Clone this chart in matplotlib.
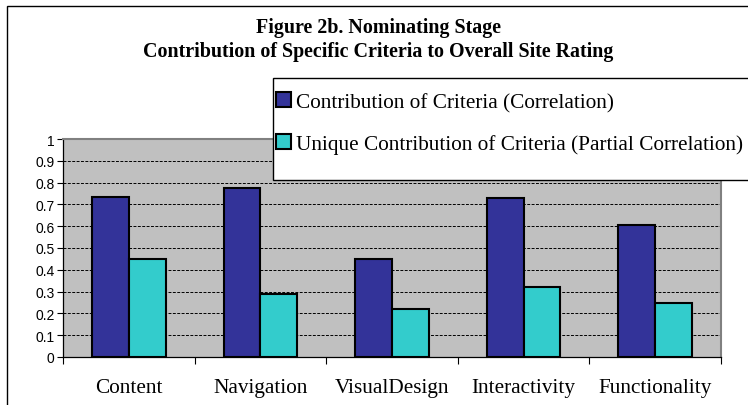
import matplotlib
matplotlib.use("Agg")
import matplotlib.pyplot as plt
import numpy as np
from matplotlib.patches import Rectangle

categories = ["Content", "Navigation", "VisualDesign", "Interactivity", "Functionality"]
correlation = [0.735, 0.775, 0.45, 0.73, 0.607]
partial = [0.45, 0.29, 0.22, 0.32, 0.25]
series_names = ["Contribution of Criteria (Correlation)",
                "Unique Contribution of Criteria (Partial Correlation)"]
yticks = [0, 0.1, 0.2, 0.3, 0.4, 0.5, 0.6, 0.7, 0.8, 0.9, 1]
ytick_labels = ["0", "0.1", "0.2", "0.3", "0.4", "0.5", "0.6", "0.7", "0.8", "0.9", "1"]

W, H = 748, 406
fig = plt.figure(figsize=(W / 100, H / 100), dpi=100)
fig.patch.set_facecolor("white")

# outer chart frame
fig.add_artist(Rectangle((7 / W, -0.1), 1.2, 1 - 7 / H + 0.1, transform=fig.transFigure,
                         fill=False, edgecolor="black", linewidth=1.0))

ax = fig.add_axes([63 / W, (H - 358) / H, (721 - 63) / W, (358 - 140) / H])
ax.set_facecolor("#C0C0C0")

x = np.arange(len(categories))
bw = 0.28
b1 = ax.bar(x - bw / 2, correlation, bw, color="#333399", edgecolor="black", linewidth=1.5,
            label=series_names[0], zorder=3)
b2 = ax.bar(x + bw / 2, partial, bw, color="#33CCCC", edgecolor="black", linewidth=1.5,
            label=series_names[1], zorder=3)

ax.set_xlim(-0.5, len(categories) - 0.5)
ax.set_ylim(0, 1)
ax.set_yticks(yticks)
ax.set_yticklabels(ytick_labels, fontfamily="Liberation Sans", fontsize=10)
ax.yaxis.grid(True, linestyle=(0, (3, 1.5)), color="black", linewidth=0.7, zorder=1)
ax.set_axisbelow(True)

ax.set_xticks(np.arange(len(categories) + 1) - 0.5, minor=False)
ax.set_xticklabels([])
ax.set_xticks(x, minor=True)
ax.set_xticklabels(categories, minor=True, fontfamily="Liberation Serif", fontsize=15.3)
ax.tick_params(axis="x", which="major", length=5, width=0.8, direction="out")
ax.tick_params(axis="x", which="minor", length=0, pad=15)
ax.tick_params(axis="y", length=4, width=0.8, direction="out", pad=2)

for s in ["left", "bottom"]:
    ax.spines[s].set_color("black")
    ax.spines[s].set_linewidth(0.9)
for s in ["top", "right"]:
    ax.spines[s].set_color("#808080")
    ax.spines[s].set_linewidth(1.5)

fig.text(378 / W, 1 - 28 / H, "Figure 2b. Nominating Stage", ha="center", va="center",
         fontfamily="Liberation Serif", fontweight="bold", fontsize=14.4)
fig.text(378 / W, 1 - 52 / H, "Contribution of Specific Criteria to Overall Site Rating",
         ha="center", va="center", fontfamily="Liberation Serif", fontweight="bold", fontsize=14.4)

# legend box
fig.add_artist(Rectangle((273 / W, 1 - 181 / H), 1.0, (181 - 79) / H, transform=fig.transFigure,
                         facecolor="white", edgecolor="black", linewidth=1.0, zorder=4))
leg = fig.legend(handles=[b1, b2], labels=series_names, loc="upper left",
                 bbox_to_anchor=(274 / W, 1 - 91 / H), bbox_transform=fig.transFigure,
                 prop={"family": "Liberation Serif", "size": 15.3},
                 frameon=False, borderpad=0.1, labelspacing=1.05, handlelength=0.7,
                 handleheight=0.7, handletextpad=0.25, borderaxespad=0)
leg.set_zorder(5)

fig.savefig("out.png", dpi=100)
